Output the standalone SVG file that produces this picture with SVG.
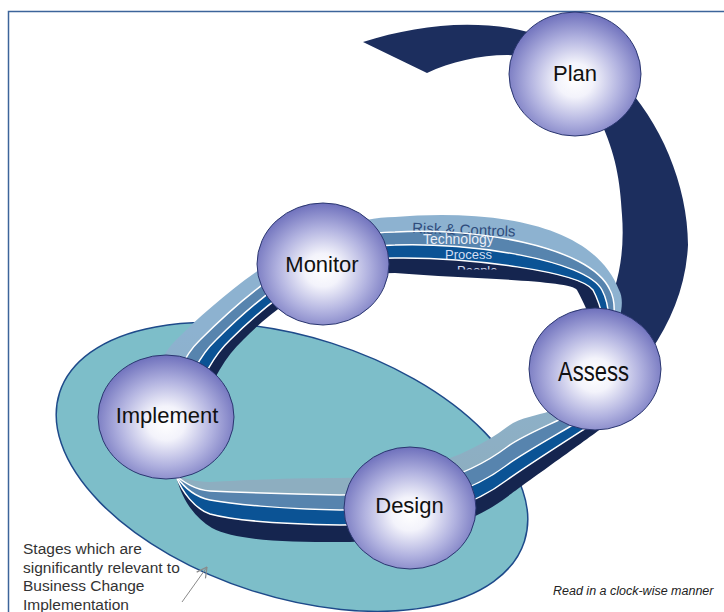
<svg xmlns="http://www.w3.org/2000/svg" width="724" height="612" viewBox="0 0 724 612">
  <defs>
    <radialGradient id="ball" cx="50%" cy="55%" r="55%">
      <stop offset="0" stop-color="#FFFFFF"/>
      <stop offset="0.25" stop-color="#F3F3FB"/>
      <stop offset="0.62" stop-color="#B2B3E0"/>
      <stop offset="1" stop-color="#6E70BC"/>
    </radialGradient>
    <linearGradient id="lightGrad" gradientUnits="userSpaceOnUse" x1="0" y1="330" x2="0" y2="480">
      <stop offset="0" stop-color="#8DB2D0"/>
      <stop offset="1" stop-color="#8DAEC0"/>
    </linearGradient>
    <path id="b1" d="M 395,232 C 470,227 590,245 610,290 C 626.5,320 591,403.5 563,418 C 549,425 520.5,436.8 507,447 C 462,481 400,495 340,495 C 280,494 232,492 210,491 C 195,490 184,482 176,476 C 160,447 165,373 200,340 C 250,290 319,232 395,232 Z"/>
    <path id="b2" d="M 395,245 C 470,242 586,260 602,290 C 618.5,320 607,404 576,423 C 560.5,432.5 520.5,454.8 507,465 C 462,499 400,510 340,510 C 280,509 232,504 210,500 C 195,497 183,486 176,476 C 170,444 181,373 216,340 C 266,290 323,245 395,245 Z"/>
    <path id="b3" d="M 395,258 C 470,257 580,272 593,290 C 609.5,320 620,405.5 589,426 C 573.5,436 520.5,469.8 507,480 C 462,514 400,525 340,525 C 280,524 232,520 210,514 C 195,509 182,492 176,476 C 180,442 195,373 230,340 C 280,290 327,258 395,258 Z"/>
    <marker id="arr" viewBox="0 0 10 10" refX="9.5" refY="5" markerUnits="userSpaceOnUse" markerWidth="12" markerHeight="12" orient="auto">
      <path d="M1,0.5 L9.5,5 L1,9.5" fill="none" stroke="#8A8A8A" stroke-width="1"/>
    </marker>
    <clipPath id="peopleClip"><rect x="440" y="255" width="80" height="14.5"/></clipPath>
  </defs>
  <style>
    .node { fill: url(#ball); stroke: #2A3670; stroke-width: 1; }
    .lbl { font-family: "Liberation Sans", Arial, sans-serif; font-size: 22px; fill: #111; text-anchor: middle; }
    .stripe { fill-rule: evenodd; stroke: none; }
    .sep { fill: none; stroke: #FFFFFF; stroke-width: 1.5; }
    .note { font-family: "Liberation Sans", Arial, sans-serif; font-size: 15.5px; fill: #333; }
  </style>

  <rect x="8.5" y="11.5" width="730" height="620" fill="none" stroke="#3C649A" stroke-width="1.5"/>

  <ellipse id="scope" cx="292" cy="467" rx="244" ry="130" transform="rotate(17.7 292 467)" fill="#7DBEC9" stroke="#1E4A8A" stroke-width="1.5"/>

  <g id="connectors">
    <path id="cycle-arrow" d="M 363,42 C 410,27 460,20 510,28 C 550,35 590,55 620,80 C 660,120 688,185 688,245 C 686,285 672,320 650,352 L 600,322 C 618,290 625,255 622,215 C 620,180 616,155 600,120 C 580,85 540,55 507,55 C 480,55 450,62 427,73 Z" fill="#1C2E5E"/>
    <g id="band">
      <path class="stripe" fill="#15254F" d="M 395,258 C 470,257 580,272 593,290 C 609.5,320 620,405.5 589,426 C 573.5,436 520.5,469.8 507,480 C 462,514 400,525 340,525 C 280,524 232,520 210,514 C 195,509 182,492 176,476 C 180,442 195,373 230,340 C 280,290 327,258 395,258 Z M 395,273 C 470,279 571.5,280 577,290 C 593.5,320 630,407 602,428 C 588,438.5 520.5,486.8 507,497 C 462,531 400,542 340,542 C 280,542 235,540 212,528 C 195,518 182,500 176,476 C 190,440 208,372 243,340 C 293,290 331,273 395,273 Z"/>
      <path class="stripe" fill="#0B5395" d="M 395,245 C 470,242 586,260 602,290 C 618.5,320 607,404 576,423 C 560.5,432.5 520.5,454.8 507,465 C 462,499 400,510 340,510 C 280,509 232,504 210,500 C 195,497 183,486 176,476 C 170,444 181,373 216,340 C 266,290 323,245 395,245 Z M 395,258 C 470,257 580,272 593,290 C 609.5,320 620,405.5 589,426 C 573.5,436 520.5,469.8 507,480 C 462,514 400,525 340,525 C 280,524 232,520 210,514 C 195,509 182,492 176,476 C 180,442 195,373 230,340 C 280,290 327,258 395,258 Z"/>
      <path class="stripe" fill="#5784AE" d="M 395,232 C 470,227 590,245 610,290 C 626.5,320 591,403.5 563,418 C 549,425 520.5,436.8 507,447 C 462,481 400,495 340,495 C 280,494 232,492 210,491 C 195,490 184,482 176,476 C 160,447 165,373 200,340 C 250,290 319,232 395,232 Z M 395,245 C 470,242 586,260 602,290 C 618.5,320 607,404 576,423 C 560.5,432.5 520.5,454.8 507,465 C 462,499 400,510 340,510 C 280,509 232,504 210,500 C 195,497 183,486 176,476 C 170,444 181,373 216,340 C 266,290 323,245 395,245 Z"/>
      <path class="stripe" fill="url(#lightGrad)" d="M 395,217 C 470,211 590,215 619,290 C 635.5,320 576,401.4 550,411 C 537,416 520.5,416.8 507,427 C 462,461 400,478 340,478 C 280,478 232,481 210,482 C 195,482 185,478 176,476 C 150,450 141,373 176,340 C 226,290 315,217 395,217 Z M 395,232 C 470,227 590,245 610,290 C 626.5,320 591,403.5 563,418 C 549,425 520.5,436.8 507,447 C 462,481 400,495 340,495 C 280,494 232,492 210,491 C 195,490 184,482 176,476 C 160,447 165,373 200,340 C 250,290 319,232 395,232 Z"/>
      <g font-family="Liberation Sans, Arial, sans-serif">
        <text x="412" y="233" font-size="15" fill="#2F4C7C" transform="rotate(2 412 233)">Risk &amp; Controls</text>
        <text x="423" y="243.5" font-size="14" fill="#E8ECF6">Technology</text>
        <text x="445" y="258.5" font-size="13" fill="#D3DEF2">Process</text>
        <text x="457" y="275" font-size="13" fill="#D3DEF2" clip-path="url(#peopleClip)">People</text>
      </g>
      <use href="#b1" class="sep"/>
      <use href="#b2" class="sep"/>
      <use href="#b3" class="sep"/>
    </g>
    <path id="note-pointer" d="M 182,602 L 207,567" stroke="#8A8A8A" stroke-width="1" fill="none" marker-end="url(#arr)"/>
  </g>

  <g id="node-plan">
    <ellipse class="node" cx="575" cy="74" rx="66" ry="62"/>
    <text class="lbl" x="575" y="81">Plan</text>
  </g>
  <g id="node-monitor">
    <ellipse class="node" cx="323" cy="264" rx="66" ry="61"/>
    <text class="lbl" x="322" y="272">Monitor</text>
  </g>
  <g id="node-assess">
    <ellipse class="node" cx="595" cy="369" rx="66" ry="61"/>
    <text class="lbl" x="593.5" y="381" textLength="71" lengthAdjust="spacingAndGlyphs" style="font-size:27px">Assess</text>
  </g>
  <g id="node-implement">
    <ellipse class="node" cx="166" cy="417" rx="68" ry="62"/>
    <text class="lbl" x="167" y="423">Implement</text>
  </g>
  <g id="node-design">
    <ellipse class="node" cx="410" cy="508" rx="66" ry="61"/>
    <text class="lbl" x="409.5" y="513">Design</text>
  </g>

  <text class="note" x="23" y="554">Stages which are</text>
  <text class="note" x="23" y="572.5">significantly relevant to</text>
  <text class="note" x="23" y="591">Business Change</text>
  <text class="note" x="23" y="609.5">Implementation</text>

  <text x="553" y="595" font-family="Liberation Sans, Arial, sans-serif" font-size="12.5" font-style="italic" fill="#222">Read in a clock-wise manner</text>
</svg>
